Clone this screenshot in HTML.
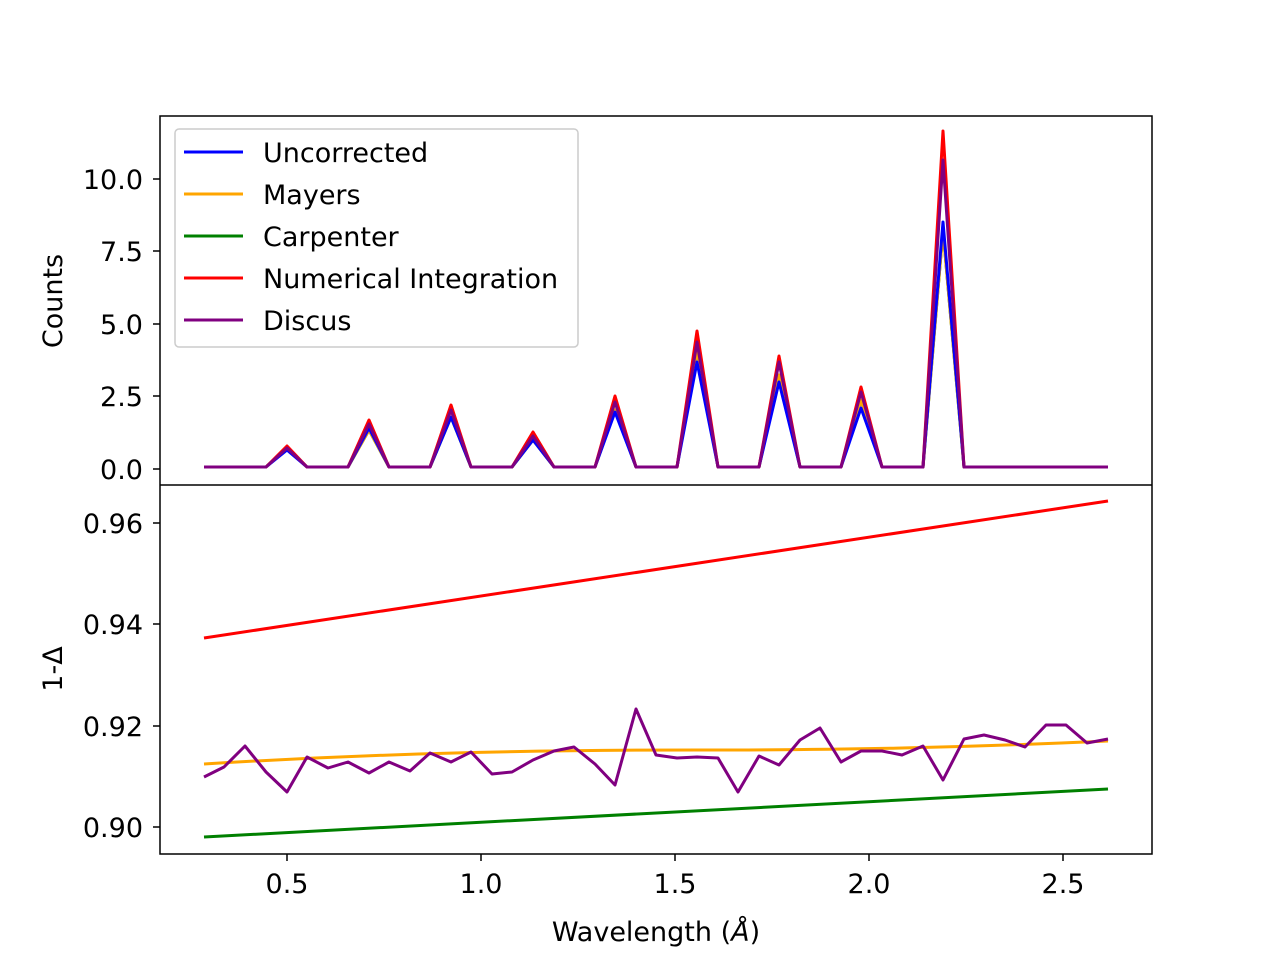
<!DOCTYPE html>
<html><head><style>body{margin:0;background:#fff}svg{display:block}text{font-family:"DejaVu Sans","Liberation Sans",sans-serif;font-size:27px;fill:#000}</style></head>
<body>
<svg width="1280" height="960" viewBox="0 0 1280 960" xmlns="http://www.w3.org/2000/svg">
<defs>
<clipPath id="ct"><rect x="160" y="116" width="992" height="369"/></clipPath>
<clipPath id="cb"><rect x="160" y="485" width="992" height="369"/></clipPath>
</defs>
<g clip-path="url(#ct)" fill="none" stroke-width="3" stroke-linejoin="round">
<polyline stroke="green" points="204,467 266,467 287,448 307,467 348,467 369,430 389,467 430,467 451,417 471,467 512,467 533,440 554,467 595,467 615,410 636,467 677,467 697,350 718,467 759,467 779,375 800,467 841,467 861,400 882,467 923,467 943,230 964,467 1108,467"/>
<polyline stroke="orange" points="204,467 266,467 287,448 307,467 348,467 369,430 389,467 430,467 451,417 471,467 512,467 533,440 554,467 595,467 615,410 636,467 677,467 697,350 718,467 759,467 779,375 800,467 841,467 861,400 882,467 923,467 943,230 964,467 1108,467"/>
<polyline stroke="blue" points="204,467 266,467 287,450 307,467 348,467 369,428 389,467 430,467 451,417 471,467 512,467 533,440 554,467 595,467 615,412 636,467 677,467 697,362 718,467 759,467 779,382 800,467 841,467 861,408 882,467 923,467 943,222 964,467 1108,467"/>
<polyline stroke="red" points="204,467 266,467 287,446 307,467 348,467 369,420 389,467 430,467 451,405 471,467 512,467 533,432 554,467 595,467 615,396 636,467 677,467 697,331 718,467 759,467 779,356 800,467 841,467 861,387 882,467 923,467 943,131 964,467 1108,467"/>
<polyline stroke="purple" points="204,467 266,467 287,448 307,467 348,467 369,424 389,467 430,467 451,410 471,467 512,467 533,436 554,467 595,467 615,402 636,467 677,467 697,342 718,467 759,467 779,362 800,467 841,467 861,392 882,467 923,467 943,160 964,467 1108,467"/>
</g>
<g clip-path="url(#cb)" fill="none" stroke-width="3" stroke-linejoin="round">
<line x1="204" y1="638" x2="1108" y2="501" stroke="red"/>
<path d="M204,764 C400,752 560,750 700,750 S950,748 1108,741" stroke="orange"/>
<line x1="204" y1="837" x2="1108" y2="789" stroke="green"/>
<polyline stroke="purple" points="204,777 224,767 245,746 266,772 287,792 307,757 328,768 348,762 369,773 389,762 410,771 430,753 451,762 471,752 492,774 512,772 533,760 554,751 574,747 595,764 615,785 636,709 656,755 677,758 697,757 718,758 738,792 759,756 779,765 800,740 820,728 841,762 861,751 882,751 902,755 923,746 943,780 964,739 984,735 1005,740 1025,747 1046,725 1066,725 1087,743 1108,739"/>
</g>
<rect x="160" y="116" width="992" height="738" fill="none" stroke="#000" stroke-width="1.5"/>
<line x1="160" y1="485" x2="1152" y2="485" stroke="#000" stroke-width="1.5"/>
<g stroke="#000" stroke-width="1.5">
<line x1="153" y1="469" x2="160" y2="469"/><line x1="153" y1="396" x2="160" y2="396"/><line x1="153" y1="324" x2="160" y2="324"/><line x1="153" y1="251" x2="160" y2="251"/><line x1="153" y1="179" x2="160" y2="179"/>
<line x1="153" y1="523" x2="160" y2="523"/><line x1="153" y1="624" x2="160" y2="624"/><line x1="153" y1="726" x2="160" y2="726"/><line x1="153" y1="827" x2="160" y2="827"/>
<line x1="287" y1="854" x2="287" y2="861"/><line x1="481" y1="854" x2="481" y2="861"/><line x1="675" y1="854" x2="675" y2="861"/><line x1="869" y1="854" x2="869" y2="861"/><line x1="1063" y1="854" x2="1063" y2="861"/>
</g>
<g text-anchor="end">
<text x="143" y="479">0.0</text><text x="143" y="406">2.5</text><text x="143" y="334">5.0</text><text x="143" y="261">7.5</text><text x="143" y="189">10.0</text>
<text x="143" y="533">0.96</text><text x="143" y="634">0.94</text><text x="143" y="736">0.92</text><text x="143" y="837">0.90</text>
</g>
<g text-anchor="middle">
<text x="287" y="893">0.5</text><text x="481" y="893">1.0</text><text x="675" y="893">1.5</text><text x="869" y="893">2.0</text><text x="1063" y="893">2.5</text>
<text x="656" y="941">Wavelength (<tspan font-style="italic">Å</tspan>)</text>
<text transform="translate(62,301) rotate(-90)">Counts</text>
<text transform="translate(62,669) rotate(-90)">1-Δ</text>
</g>
<rect x="175" y="129" width="403" height="218" rx="4" fill="#fff" fill-opacity="0.8" stroke="#ccc" stroke-width="1.5"/>
<g stroke-width="3">
<line x1="184" y1="152" x2="243" y2="152" stroke="blue"/>
<line x1="184" y1="194" x2="243" y2="194" stroke="orange"/>
<line x1="184" y1="236" x2="243" y2="236" stroke="green"/>
<line x1="184" y1="278" x2="243" y2="278" stroke="red"/>
<line x1="184" y1="320" x2="243" y2="320" stroke="purple"/>
</g>
<text x="263" y="162">Uncorrected</text>
<text x="263" y="204">Mayers</text>
<text x="263" y="246">Carpenter</text>
<text x="263" y="288">Numerical Integration</text>
<text x="263" y="330">Discus</text>
</svg>
</body></html>
